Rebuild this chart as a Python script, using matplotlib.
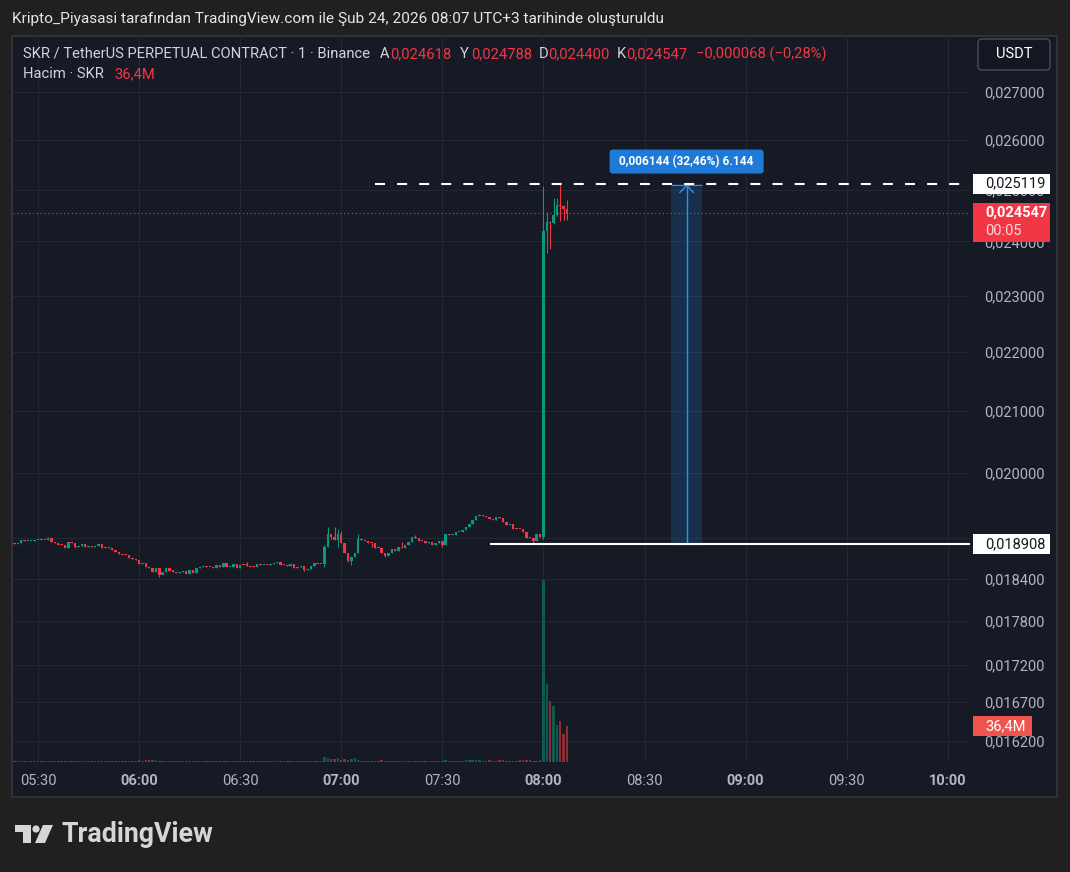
import matplotlib
matplotlib.use("Agg")
import matplotlib.pyplot as plt
from matplotlib.patches import Rectangle, FancyBboxPatch, Polygon, Circle
from matplotlib.ticker import FixedLocator, FuncFormatter, NullLocator
import numpy as np

plt.rcParams['font.family'] = ['Roboto', 'DejaVu Sans']

# ---- data (1 minute candles, SKR/USDT perp) ----
start = "05:23"
first_open = 0.018931
closes = [
    0.018916, 0.018931, 0.018976, 0.018961, 0.018961, 0.018961, 0.018976, 0.018981, 0.018970, 0.018978,
    0.019005, 0.018946, 0.018931, 0.018901, 0.018895, 0.018856, 0.018946, 0.018935, 0.018871, 0.018886,
    0.018916, 0.018871, 0.018880, 0.018868, 0.018884, 0.018916, 0.018856, 0.018871, 0.018860, 0.018826,
    0.018797, 0.018767, 0.018752, 0.018748, 0.018707, 0.018692, 0.018678, 0.018618, 0.018633, 0.018573,
    0.018558, 0.018499, 0.018558, 0.018454, 0.018499, 0.018558, 0.018514, 0.018510, 0.018484, 0.018499,
    0.018514, 0.018469, 0.018529, 0.018484, 0.018558, 0.018573, 0.018588, 0.018573, 0.018570, 0.018558,
    0.018603, 0.018573, 0.018633, 0.018573, 0.018576, 0.018618, 0.018558, 0.018603, 0.018600, 0.018596,
    0.018573, 0.018570, 0.018618, 0.018603, 0.018606, 0.018600, 0.018618, 0.018633, 0.018648, 0.018603,
    0.018598, 0.018588, 0.018618, 0.018558, 0.018573, 0.018588, 0.018529, 0.018543, 0.018588, 0.018633,
    0.018618, 0.018622, 0.018871, 0.019065, 0.019020, 0.018976, 0.019065, 0.018931, 0.018782, 0.018663,
    0.018722, 0.018782, 0.018990, 0.018976, 0.018961, 0.018931, 0.018928, 0.018856, 0.018852, 0.018782,
    0.018737, 0.018782, 0.018841, 0.018812, 0.018871, 0.018856, 0.018901, 0.018946, 0.019020, 0.019005,
    0.018961, 0.018958, 0.018931, 0.018946, 0.018901, 0.018931, 0.018961, 0.018901, 0.019065, 0.019050,
    0.019054, 0.019095, 0.019099, 0.019125, 0.019169, 0.019214, 0.019274, 0.019333, 0.019348, 0.019333,
    0.019318, 0.019288, 0.019274, 0.019318, 0.019303, 0.019244, 0.019199, 0.019214, 0.019139, 0.019136,
    0.019133, 0.019095, 0.019005, 0.019000, 0.018961, 0.019065, 0.019020,
    0.024199, 0.024371, 0.024352, 0.024505, 0.024699, 0.024680, 0.024618, 0.024547,
]
highs = {
    "05:33": 0.019020, "05:41": 0.018931, "06:32": 0.018648, "06:55": 0.018901,
    "06:56": 0.019169, "06:58": 0.019169, "06:59": 0.019139, "07:00": 0.019110,
    "07:05": 0.019065, "07:18": 0.018946, "07:22": 0.019050, "07:41": 0.019363,
    "07:48": 0.019288, "08:00": 0.025080, "08:01": 0.024560, "08:02": 0.024391,
    "08:03": 0.024836, "08:04": 0.024836, "08:05": 0.025119, "08:06": 0.024699,
    "08:07": 0.024788,
}
lows = {
    "05:41": 0.018856, "06:06": 0.018424, "06:49": 0.018514, "06:55": 0.018573,
    "06:57": 0.018990, "06:59": 0.018871, "07:02": 0.018648, "07:03": 0.018603,
    "07:09": 0.018871, "07:13": 0.018722, "07:30": 0.018871, "07:57": 0.018908,
    "08:00": 0.018990, "08:01": 0.023783, "08:02": 0.023858, "08:03": 0.024330,
    "08:04": 0.024480, "08:05": 0.024391, "08:06": 0.024410, "08:07": 0.024400,
}
# volume in millions
volumes = [
    0.8, 0.6, 1.0, 0.7, 0.9, 0.6, 1.1, 0.8, 0.7, 0.9, 1.5, 1.2, 1.0, 0.9, 1.4, 1.1, 1.3,
    0.7, 1.0, 0.8, 0.9, 0.8, 0.6, 0.9, 1.3, 1.0, 0.8, 1.1, 0.7, 1.0, 1.2, 1.4, 0.9, 0.8, 1.1, 0.9, 1.2,
    1.8, 1.5, 2.0, 1.9, 2.1, 1.6, 1.2, 1.0, 0.9, 0.8, 0.7, 1.0, 0.8, 1.2, 0.9, 1.4, 1.1, 0.8, 0.7, 0.9,
    0.6, 0.8, 1.0, 0.7, 0.9, 1.3, 0.8, 0.7, 1.0, 0.6, 0.8, 0.9, 1.2, 1.0, 0.8, 0.7, 0.9, 0.6, 0.8, 1.0,
    0.9, 1.1, 0.8, 0.7, 1.0, 0.9, 1.3, 0.8, 0.7, 0.9, 1.2, 1.0, 1.4, 0.9, 1.1,
    4.6, 4.2, 2.8, 3.1, 3.6, 2.5, 2.9, 2.2, 2.6, 3.9, 1.8, 1.4, 1.2,
    1.0, 0.9, 1.3, 1.1, 1.6, 1.4, 1.0, 1.2, 0.9, 0.8, 1.1, 1.0, 0.9, 1.3, 1.0, 0.8, 0.9, 1.2, 0.7, 0.9, 1.0, 1.1,
    1.2, 1.9, 1.3, 1.1, 1.4, 1.2, 1.5, 1.8, 2.0, 1.7, 1.9, 1.6, 1.3, 1.5, 1.7, 1.2, 1.4, 1.6, 1.8, 1.4,
    1.3, 1.5, 1.2, 1.6, 1.9, 1.7, 2.1, 1.5, 1.3, 1.6,
    184.0, 79.0, 62.0, 57.0, 37.0, 41.0, 28.0, 36.4,
]

price_ticks = [0.027, 0.026, 0.025, 0.024, 0.023, 0.022, 0.021, 0.020, 0.019,
               0.0184, 0.0178, 0.0172, 0.0167, 0.0162]
time_ticks = ["05:30", "06:00", "06:30", "07:00", "07:30", "08:00",
              "08:30", "09:00", "09:30", "10:00"]

last_price = 0.024547
measure_low = 0.018908
measure_high = 0.025119
measure_start, measure_end = "08:38", "08:47"
high_ray_start = "07:10"
low_ray_start = "07:44"

UP = '#089981'
DOWN = '#f23645'
TXT = '#b2b5be'
BG = '#161a25'


def minutes(s):
    h, m = s.split(':')
    return int(h) * 60 + int(m) - 300


closes = np.array(closes)
t = np.arange(len(closes)) + minutes(start)
opens = np.r_[first_open, closes[:-1]]
hi = np.maximum(opens, closes)
lo = np.minimum(opens, closes)
for k, v in highs.items():
    hi[minutes(k) - minutes(start)] = v
for k, v in lows.items():
    lo[minutes(k) - minutes(start)] = v
up = closes >= opens
colors = np.where(up, UP, DOWN)

W, H = 1070, 872
fig = plt.figure(figsize=(W / 100, H / 100), dpi=100)
fig.patch.set_facecolor('#202020')

# background panel (pixel coords)
bg = fig.add_axes([0, 0, 1, 1], zorder=0)
bg.set_xlim(0, W)
bg.set_ylim(H, 0)
bg.axis('off')
bg.add_patch(Rectangle((12, 36), 1045, 761, facecolor=BG, edgecolor='#34363d', lw=1.2))

rect = [13 / W, (H - 762) / H, 957 / W, 726 / H]
ax = fig.add_axes(rect, zorder=1)
ax.set_facecolor('none')
ax.set_yscale('log')
ax.set_ylim(0.015933, 0.028212)
ax.set_xlim(22.58, 306.6)
ax.yaxis.set_major_locator(FixedLocator(price_ticks))
ax.yaxis.set_minor_locator(NullLocator())
ax.yaxis.set_major_formatter(FuncFormatter(lambda v, p: f"{v:.6f}".replace('.', ',')))
ax.yaxis.tick_right()
ax.tick_params(axis='y', length=0, pad=10, labelsize=10.5, labelcolor=TXT)
ax.set_xticks([minutes(s) for s in time_ticks])
ax.set_xticklabels(time_ticks)
for lab, s in zip(ax.get_xticklabels(), time_ticks):
    if s.endswith(':00'):
        lab.set_fontweight('bold')
ax.tick_params(axis='x', length=0, pad=8.5, labelsize=10.5, labelcolor=TXT)
ax.grid(color='#232633', lw=0.8)
ax.set_axisbelow(True)
for sp in ax.spines.values():
    sp.set_visible(False)

# candles
ax.vlines(t, lo, hi, colors=colors, lw=0.8, zorder=3)
body_h = np.maximum(np.abs(closes - opens), closes * 0.0009)
ax.bar(t, body_h, bottom=np.minimum(opens, closes), width=0.72,
       color=colors, lw=0, zorder=4)

# lines
x_right = ax.get_xlim()[1]
ax.axhline(last_price, color=DOWN, lw=0.8, ls=(0, (1, 2.5)), zorder=2)
ax.hlines(measure_high, minutes(high_ray_start), x_right, color='white', lw=1.5,
          ls=(0, (4.8, 5.8)), zorder=5)
ax.hlines(measure_low, minutes(low_ray_start), x_right, color='white', lw=1.5, zorder=5)

# measure tool
m0, m1 = minutes(measure_start), minutes(measure_end)
mid = (m0 + m1) / 2
ax.add_patch(Rectangle((m0, measure_low), m1 - m0, measure_high - measure_low,
                       facecolor='#1e88e5', alpha=0.2, lw=0, zorder=2))
ax.hlines([measure_low, measure_high * 0.9985], m0, m1, color='#2196f3', lw=0.8, zorder=3)
ax.vlines(mid, measure_low, measure_high * 0.9985, color='#2196f3', lw=1.0, zorder=3)
ax.plot([mid - 2.0, mid, mid + 2.0],
        [measure_high * 0.993, measure_high * 0.9985, measure_high * 0.993],
        color='#2196f3', lw=1.0, zorder=3)

# volume overlay
vol = fig.add_axes(rect, zorder=2, sharex=ax)
vol.set_facecolor('none')
vol.set_ylim(0, 734)
vol.bar(t, volumes, width=0.72, color=np.where(up, '#0f5953', '#843035'), lw=0)
vol.axis('off')

# top overlay in pixel coords
top = fig.add_axes([0, 0, 1, 1], zorder=5)
top.set_xlim(0, W)
top.set_ylim(H, 0)
top.set_facecolor('none')
top.axis('off')


def px(x, y, a=ax):
    X, Y = a.transData.transform((x, y))
    return X, H - Y


fig.text(12 / W, 1 - 19 / H,
         "Kripto_Piyasasi tarafından TradingView.com ile Şub 24, 2026 08:07 UTC+3 tarihinde oluşturuldu",
         color='#e6e6e6', fontsize=11.1, va='center', ha='left')

# legend
y1, y2 = 54, 74
legend_parts = [
    (23, "SKR / TetherUS PERPETUAL CONTRACT · 1 · Binance", '#d1d4dc'),
    (380, "A", '#d1d4dc'), (390, "0,024618", DOWN),
    (460, "Y", '#d1d4dc'), (471, "0,024788", DOWN),
    (539, "D", '#d1d4dc'), (548, "0,024400", DOWN),
    (617, "K", '#d1d4dc'), (626, "0,024547", DOWN),
    (696, "−0,000068 (−0,28%)", DOWN),
]
for x, s, c in legend_parts:
    top.text(x, y1, s, color=c, fontsize=10.6, va='center', ha='left')
top.text(23, y2, "Hacim · SKR", color='#d1d4dc', fontsize=10.6, va='center', ha='left')
top.text(114, y2, "36,4M", color=DOWN, fontsize=10.6, va='center', ha='left')

# USDT button
top.add_patch(FancyBboxPatch((978, 39), 72, 31, boxstyle="round,pad=0,rounding_size=4",
                             facecolor='#131722', edgecolor='#4a4d57', lw=1))
top.text(1014, 54.5, "USDT", color='white', fontsize=10.5, ha='center', va='center')

# price labels
_, yh = px(0, measure_high)
top.add_patch(Rectangle((973, yh - 10), 77, 20, facecolor='white', lw=0))
top.text(985, yh, "0,025119", color='#131722', fontsize=10.5, va='center', ha='left')

_, yl = px(0, measure_low)
top.add_patch(Rectangle((973, yl - 10), 77, 20, facecolor='white', lw=0))
top.text(985, yl, "0,018908", color='#131722', fontsize=10.5, va='center', ha='left')

_, yc = px(0, last_price)
top.add_patch(Rectangle((973, yc - 10), 77, 39, facecolor=DOWN, lw=0))
top.text(985, yc, "0,024547", color='white', fontsize=10.5, fontweight='bold', va='center', ha='left')
top.text(985, yc + 18, "00:05", color='#fcd7da', fontsize=10.5, va='center', ha='left')

_, yv = px(0, volumes[-1], vol)
top.add_patch(Rectangle((973, yv - 10), 59, 20, facecolor='#f0544f', lw=0))
top.text(985, yv, "36,4M", color='white', fontsize=10.5, va='center', ha='left')

# measure label
xm, ym = px(mid, measure_high)
top.add_patch(FancyBboxPatch((xm - 77, ym - 34), 154, 24, boxstyle="round,pad=0,rounding_size=3",
                             facecolor='#1e7ad6', lw=0))
top.text(xm, ym - 22, "0,006144 (32,46%) 6.144", color='white', fontsize=8.6,
         fontweight='bold', ha='center', va='center')

# TradingView logo
top.add_patch(Polygon([(15, 825), (31, 825), (31, 843), (23, 843), (23, 832), (15, 832)],
                      closed=True, facecolor='#d6d6d6', lw=0))
top.add_patch(Circle((36, 829), 3.6, facecolor='#d6d6d6', lw=0))
top.add_patch(Polygon([(43, 825), (53, 825), (45, 843), (35, 843)],
                      closed=True, facecolor='#d6d6d6', lw=0))
top.text(61, 834, "TradingView", color='#d6d6d6', fontsize=19.3, fontweight='bold',
         ha='left', va='center')

fig.savefig("out.png", dpi=100, facecolor=fig.get_facecolor())
